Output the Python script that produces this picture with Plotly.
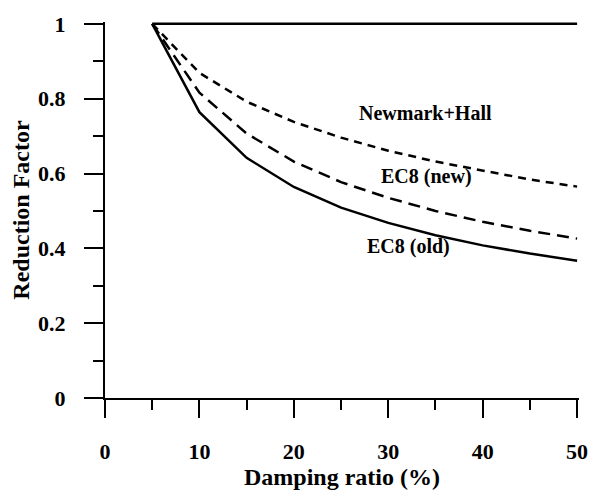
import plotly.graph_objects as go

damping = [5, 10, 15, 20, 25, 30, 35, 40, 45, 50]
ec8_old = [1.0, 0.764, 0.642, 0.564, 0.509, 0.468, 0.435, 0.408, 0.386, 0.367]
ec8_new = [1.0, 0.816, 0.707, 0.632, 0.577, 0.535, 0.500, 0.471, 0.447, 0.426]
newmark_hall = [1.0, 0.869, 0.792, 0.738, 0.696, 0.661, 0.632, 0.607, 0.584, 0.565]
reference_line = [1.0] * len(damping)

labels = ["Newmark+Hall", "EC8 (new)", "EC8 (old)"]
label_x = [33.9, 34.1, 32.1]
label_y = [0.762, 0.592, 0.405]

FONT = "Liberation Serif, Times New Roman, DejaVu Serif, serif"

fig = go.Figure()
fig.add_trace(go.Scatter(x=damping, y=reference_line, mode="lines",
                         line=dict(color="black", width=2.5)))
fig.add_trace(go.Scatter(x=damping, y=newmark_hall, mode="lines",
                         line=dict(color="black", width=2.5, dash="8px,6px")))
fig.add_trace(go.Scatter(x=damping, y=ec8_new, mode="lines",
                         line=dict(color="black", width=2.5, dash="12px,7px")))
fig.add_trace(go.Scatter(x=damping, y=ec8_old, mode="lines",
                         line=dict(color="black", width=2.5)))

for t, x, y in zip(labels, label_x, label_y):
    fig.add_annotation(x=x, y=y, text="<b>%s</b>" % t, showarrow=False,
                       font=dict(family=FONT, size=20, color="black"))

fig.update_layout(
    width=600, height=493,
    margin=dict(l=105, r=14, t=16, b=91),
    paper_bgcolor="white", plot_bgcolor="white",
    showlegend=False,
    font=dict(family=FONT, color="black", size=22),
)
fig.update_xaxes(
    range=[0, 50.2], tickmode="linear", tick0=0, dtick=10,
    showgrid=False, zeroline=False, showline=True, linecolor="black", linewidth=2,
    ticks="outside", ticklen=18, tickwidth=2, tickcolor="black",
    ticklabelstandoff=15,
    tickfont=dict(family=FONT, size=22, color="black"),
    minor=dict(ticks="outside", ticklen=10, tickwidth=2, tickcolor="black", dtick=5, tick0=0, showgrid=False),
    title=dict(text="<b>Damping ratio (%)</b>", font=dict(family=FONT, size=24, color="black"), standoff=0),
    tickprefix="<b>", ticksuffix="</b>",
)
fig.update_yaxes(
    range=[0, 1.005], tickmode="linear", tick0=0, dtick=0.2,
    showgrid=False, zeroline=False, showline=True, linecolor="black", linewidth=2,
    ticks="outside", ticklen=19, tickwidth=2, tickcolor="black",
    ticklabelstandoff=14,
    tickfont=dict(family=FONT, size=22, color="black"),
    minor=dict(ticks="outside", ticklen=10, tickwidth=2, tickcolor="black", dtick=0.1, tick0=0, showgrid=False),
    title=dict(text="<b>Reduction Factor</b>", font=dict(family=FONT, size=24, color="black"), standoff=2),
    tickprefix="<b>", ticksuffix="</b>",
)

fig.write_html("out.html")
